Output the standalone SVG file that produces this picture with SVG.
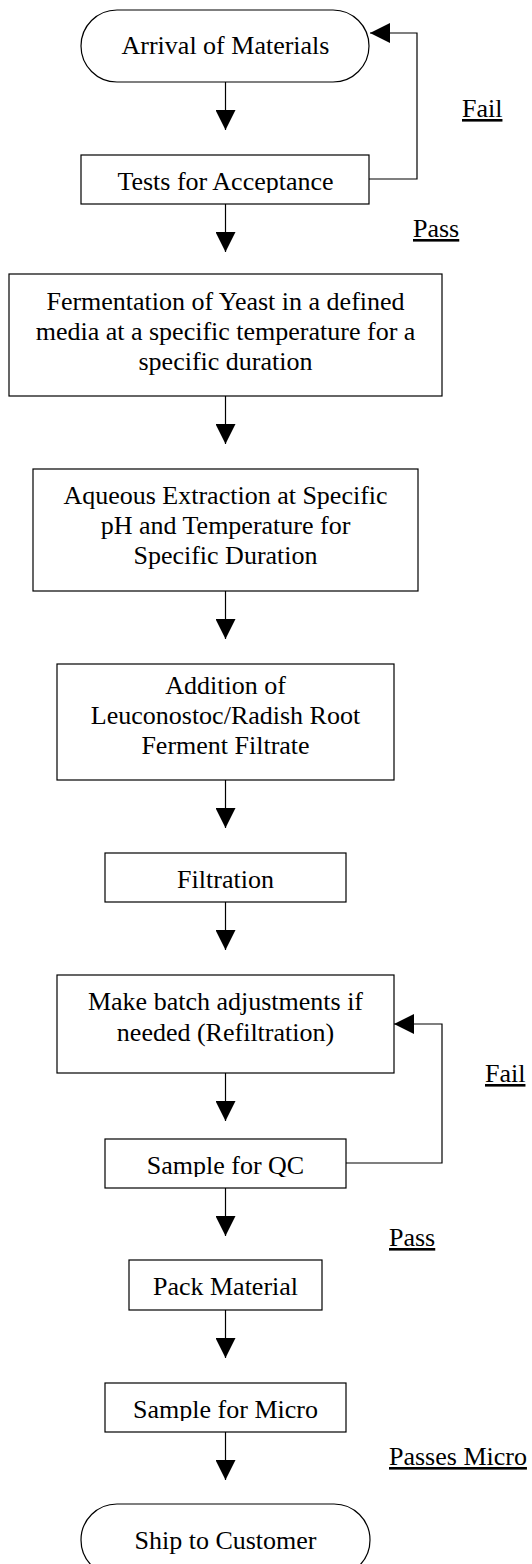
<svg xmlns="http://www.w3.org/2000/svg" width="532" height="1564" viewBox="0 0 532 1564">
<style>
.box{fill:#fff;stroke:#000;stroke-width:1.2}
.t{font-family:"Liberation Serif","Times New Roman",serif;font-size:26px;fill:#000;text-anchor:middle}
.lbl{font-family:"Liberation Serif","Times New Roman",serif;font-size:26px;fill:#000;text-decoration:underline}
.c{fill:none;stroke:#000;stroke-width:1.2}
</style>
<defs>
<marker id="ah" markerUnits="userSpaceOnUse" markerWidth="20" markerHeight="20" viewBox="0 0 20 20" refX="20" refY="10" orient="auto">
<path d="M0,0 L20,10 L0,20 z" fill="#000"/>
</marker>
<clipPath id="cTests"><rect x="81" y="155" width="288" height="38"/></clipPath>
<clipPath id="cQC"><rect x="105" y="1139" width="241" height="38"/></clipPath>
<clipPath id="cMicro"><rect x="105" y="1383" width="241" height="38"/></clipPath>
</defs>
<rect width="532" height="1564" fill="#fff"/>
<g id="connectors">
<path class="c" d="M225.5,82 V130" marker-end="url(#ah)"/>
<path class="c" d="M225.5,204 V252" marker-end="url(#ah)"/>
<path class="c" d="M369,179 H417 V33 H370" marker-end="url(#ah)"/>
<path class="c" d="M225.5,396 V444" marker-end="url(#ah)"/>
<path class="c" d="M225.5,591 V639" marker-end="url(#ah)"/>
<path class="c" d="M225.5,780 V828" marker-end="url(#ah)"/>
<path class="c" d="M225.5,902 V950" marker-end="url(#ah)"/>
<path class="c" d="M225.5,1073 V1121" marker-end="url(#ah)"/>
<path class="c" d="M346,1163 H442 V1024 H394" marker-end="url(#ah)"/>
<path class="c" d="M225.5,1188 V1236" marker-end="url(#ah)"/>
<path class="c" d="M225.5,1310 V1358" marker-end="url(#ah)"/>
<path class="c" d="M225.5,1432 V1480" marker-end="url(#ah)"/>
</g>
<g id="labels">
<text class="lbl" x="462" y="117">Fail</text>
<text class="lbl" x="413" y="237">Pass</text>
<text class="lbl" x="485" y="1082">Fail</text>
<text class="lbl" x="389" y="1246">Pass</text>
<text class="lbl" x="389" y="1465">Passes Micro</text>
</g>
<g id="arrival">
<rect class="box" x="81" y="10" width="288" height="72" rx="36" ry="36"/>
<text class="t" x="225.5" y="54">Arrival of Materials</text>
</g>
<g id="tests">
<rect class="box" x="81" y="155" width="288" height="49"/>
<text class="t" x="225.5" y="190" clip-path="url(#cTests)">Tests for Acceptance</text>
</g>
<g id="fermentation">
<rect class="box" x="9" y="274" width="433" height="122"/>
<text class="t" x="225.5" y="310">Fermentation of Yeast in a defined</text>
<text class="t" x="225.5" y="340">media at a specific temperature for a</text>
<text class="t" x="225.5" y="370">specific duration</text>
</g>
<g id="extraction">
<rect class="box" x="33" y="469" width="385" height="122"/>
<text class="t" x="225.5" y="504">Aqueous Extraction at Specific</text>
<text class="t" x="225.5" y="534">pH and Temperature for</text>
<text class="t" x="225.5" y="564">Specific Duration</text>
</g>
<g id="addition">
<rect class="box" x="57" y="664" width="337" height="116"/>
<text class="t" x="225.5" y="694">Addition of</text>
<text class="t" x="225.5" y="724">Leuconostoc/Radish Root</text>
<text class="t" x="225.5" y="754">Ferment Filtrate</text>
</g>
<g id="filtration">
<rect class="box" x="105" y="853" width="241" height="49"/>
<text class="t" x="225.5" y="888">Filtration</text>
</g>
<g id="adjust">
<rect class="box" x="57" y="975" width="337" height="98"/>
<text class="t" x="225.5" y="1010">Make batch adjustments if</text>
<text class="t" x="225.5" y="1041">needed (Refiltration)</text>
</g>
<g id="sampleqc">
<rect class="box" x="105" y="1139" width="241" height="49"/>
<text class="t" x="225.5" y="1174" clip-path="url(#cQC)">Sample for QC</text>
</g>
<g id="pack">
<rect class="box" x="129" y="1260" width="193" height="50"/>
<text class="t" x="225.5" y="1295">Pack Material</text>
</g>
<g id="samplemicro">
<rect class="box" x="105" y="1383" width="241" height="49"/>
<text class="t" x="225.5" y="1418" clip-path="url(#cMicro)">Sample for Micro</text>
</g>
<g id="ship">
<rect class="box" x="81" y="1504" width="289" height="72" rx="36" ry="36"/>
<text class="t" x="225.5" y="1549">Ship to Customer</text>
</g>
</svg>
